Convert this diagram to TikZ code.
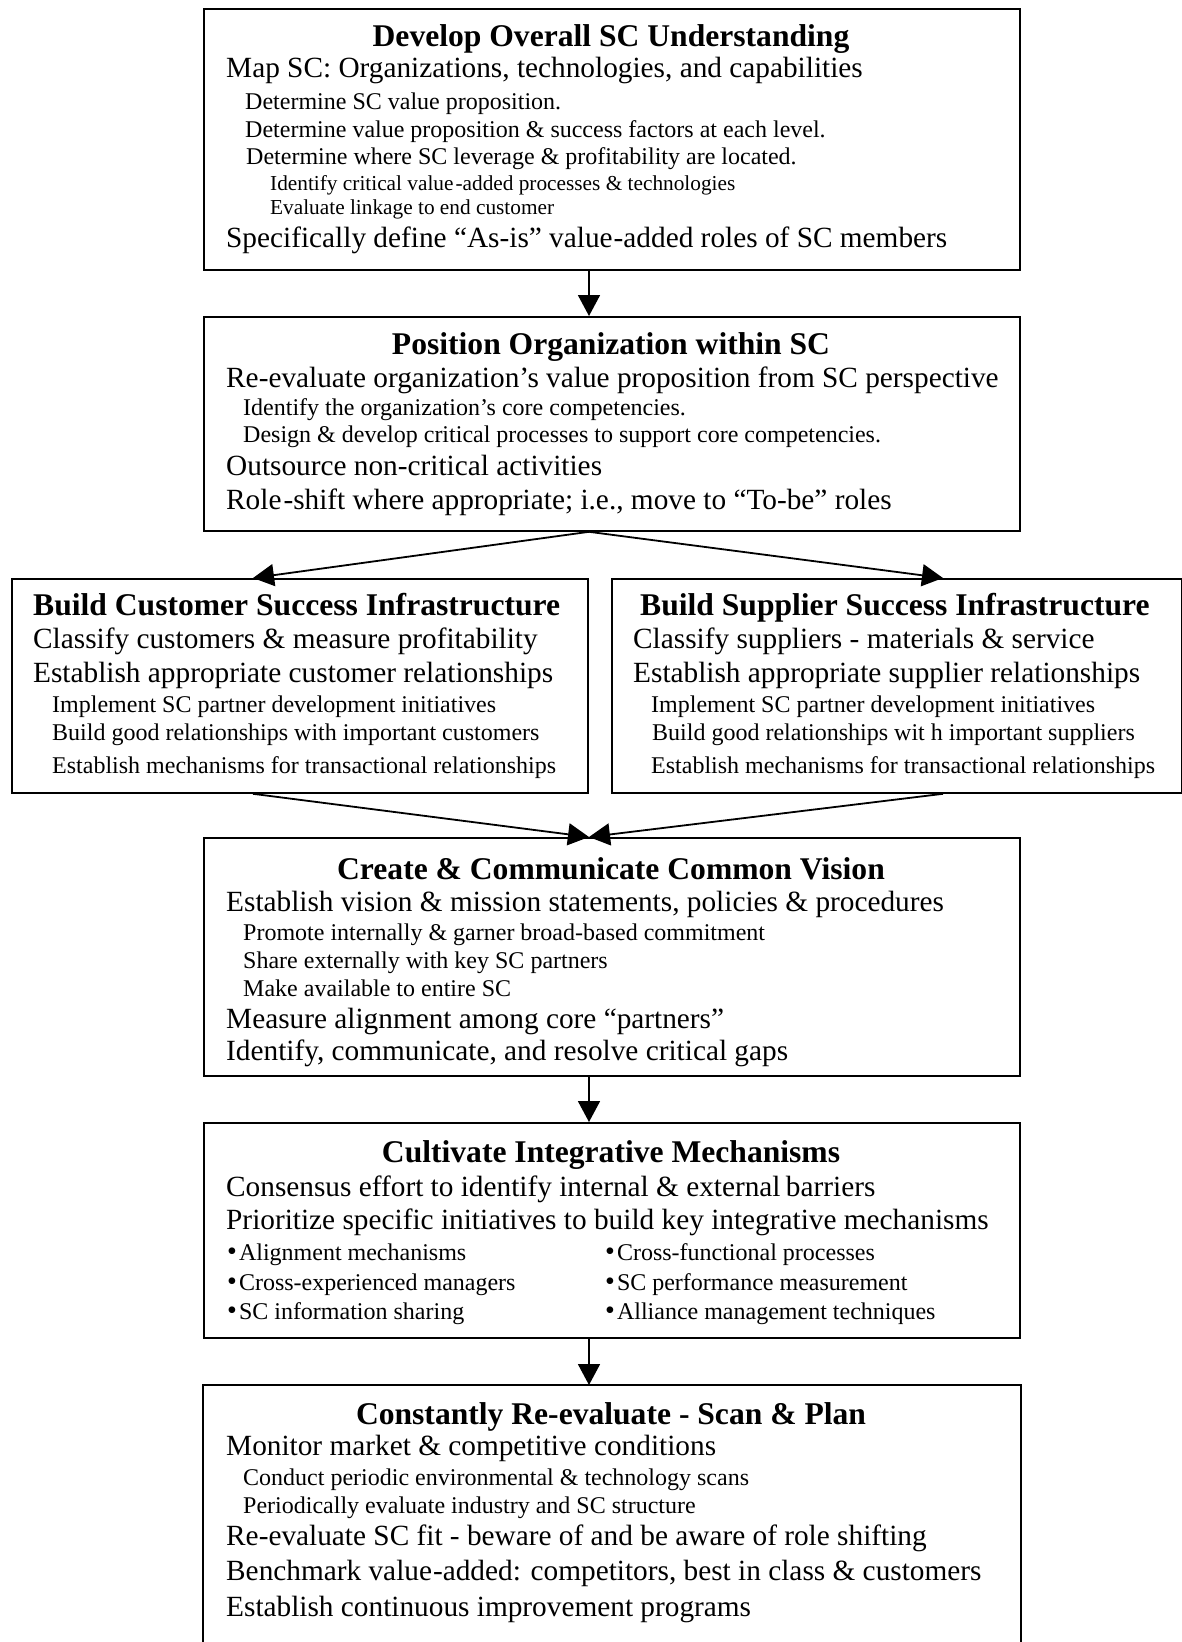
\documentclass[tikz,border=0pt]{standalone}
\usepackage{fontspec}
\setmainfont{Liberation Serif}
\usetikzlibrary{arrows.meta}
\newcommand{\bul}{{\fontsize{28}{28}\selectfont •}\kern2pt}
\tikzset{
  box/.style={draw, line width=1.8pt, rectangle, inner sep=0pt, anchor=north west},
  ttl/.style={font=\fontsize{31.6}{36}\selectfont\bfseries, anchor=base, inner sep=0pt},
  ttlw/.style={font=\fontsize{31.6}{36}\selectfont\bfseries, anchor=base west, inner sep=0pt},
  mainln/.style={font=\fontsize{29.3}{33}\selectfont, anchor=base west, inner sep=0pt},
  subln/.style={font=\fontsize{24}{28}\selectfont, anchor=base west, inner sep=0pt},
  subsub/.style={font=\fontsize{21.3}{25}\selectfont, anchor=base west, inner sep=0pt},
  arr/.style={line width=1.8pt, -{Triangle[length=21pt,width=22pt]}},
}
\begin{document}
\begin{tikzpicture}[x=1pt,y=-1pt]
\useasboundingbox (0,0) rectangle (1182,1642);
% boxes
\node[box, minimum width=816pt, minimum height=261pt] (b1) at (203,8) {};
\node[box, minimum width=816pt, minimum height=214pt] (b2) at (203,316) {};
\node[box, minimum width=576pt, minimum height=214pt] (bl) at (11,578) {};
\node[box, minimum width=569.5pt, minimum height=214pt] (br) at (611,578) {};
\node[box, minimum width=816pt, minimum height=238pt] (b4) at (203,837) {};
\node[box, minimum width=816pt, minimum height=215pt] (b5) at (203,1122) {};
\node[box, draw=none, minimum width=816pt, minimum height=257pt] (b6) at (203,1385) {};
\draw[line width=1.8pt] (b6.south west) -- (b6.north west) -- (b6.north east) -- (b6.south east);
% connector x positions
\coordinate (ax) at (589,0);
\coordinate (lx) at (253,0);
\coordinate (rx) at (943,0);
\draw[arr] (b1.south -| ax) -- (b2.north -| ax);
\draw[arr] (b2.south -| ax) -- (bl.north -| lx);
\draw[arr] (b2.south -| ax) -- (br.north -| rx);
\draw[arr] (bl.south -| lx) -- (b4.north -| ax);
\draw[arr] (br.south -| rx) -- (b4.north -| ax);
\draw[arr] (b4.south -| ax) -- (b5.north -| ax);
\draw[arr] (b5.south -| ax) -- (b6.north -| ax);
% box 1
\node[ttl] (t1) at (611,46) {Develop Overall SC Understanding};
\node[mainln] (t1a) at (226,77) {Map SC: Organizations, technologies, and capabilities};
\node[subln] (t1b) at (245,109) {Determine SC value proposition.};
\node[subln] (t1c) at (245,137) {Determine value proposition \& success factors at each level.};
\node[subln] (t1d) at (246,164) {Determine where SC leverage \& profitability are located.};
\node[subsub] (t1e) at (270,190) {Identify critical value\kern2pt-added processes \& technologies};
\node[subsub] (t1f) at (270,214) {Evaluate linkage to end customer};
\node[mainln] (t1g) at (226,247) {Specifically define “As-is” value\kern1pt-added roles of SC members};
% box 2
\node[ttl] (t2) at (611,354) {Position Organization within SC};
\node[mainln] (t2a) at (226,387) {Re-evaluate organization’s value proposition from SC perspective};
\node[subln] (t2b) at (243,415) {Identify the organization’s core competencies.};
\node[subln] (t2c) at (243,442) {Design \& develop critical processes to support core competencies.};
\node[mainln] (t2d) at (226,475) {Outsource non-critical activities};
\node[mainln] (t2e) at (226,509) {Role\kern2pt-shift where appropriate; i.e., move to “To-be” roles};
% left box
\node[ttlw] (tl) at (33,615) {Build Customer Success Infrastructure};
\node[mainln] (tla) at (33,648) {Classify customers \& measure profitability};
\node[mainln] (tlb) at (33,682) {Establish appropriate customer relationships};
\node[subln] (tlc) at (52,712) {Implement SC partner development initiatives};
\node[subln] (tld) at (52,740) {Build good relationships with important customers};
\node[subln] (tle) at (52,773) {Establish mechanisms for transactional relationships};
% right box
\node[ttlw] (tr) at (640,615) {Build Supplier Success Infrastructure};
\node[mainln] (tra) at (633,648) {Classify suppliers - materials \& service};
\node[mainln] (trb) at (633,682) {Establish appropriate supplier relationships};
\node[subln] (trc) at (651,712) {Implement SC partner development initiatives};
\node[subln] (trd) at (652,740) {Build good relationships wit h important suppliers};
\node[subln] (tre) at (651,773) {Establish mechanisms for transactional relationships};
% box 4
\node[ttl] (t4) at (611,879) {Create \& Communicate Common Vision};
\node[mainln] (t4a) at (226,911) {Establish vision \& mission statements, policies \& procedures};
\node[subln] (t4b) at (243,940) {Promote internally \& garner broad-based commitment};
\node[subln] (t4c) at (243,968) {Share externally with key SC partners};
\node[subln] (t4d) at (243,996) {Make available to entire SC};
\node[mainln] (t4e) at (226,1028) {Measure alignment among core “partners”};
\node[mainln] (t4f) at (226,1060) {Identify, communicate, and resolve critical gaps};
% box 5
\node[ttl] (t5) at (611,1162) {Cultivate Integrative Mechanisms};
\node[mainln] (t5a) at (226,1196) {Consensus effort to identify internal \& external\kern-2pt{} barriers};
\node[mainln] (t5b) at (226,1229) {Prioritize specific initiatives to build key integrative mechanisms};
\node[subln] (t5c) at (227,1260) {\bul Alignment mechanisms};
\node[subln] (t5d) at (605,1260) {\bul Cross-functional processes};
\node[subln] (t5e) at (227,1290) {\bul Cross-experienced managers};
\node[subln] (t5f) at (605,1290) {\bul SC performance measurement};
\node[subln] (t5g) at (227,1319) {\bul SC information sharing};
\node[subln] (t5h) at (605,1319) {\bul Alliance management techniques};
% box 6
\node[ttl] (t6) at (611,1424) {Constantly Re-evaluate - Scan \& Plan};
\node[mainln] (t6a) at (226,1455) {Monitor market \& competitive conditions};
\node[subln] (t6b) at (243,1485) {Conduct periodic environmental \& technology scans};
\node[subln] (t6c) at (243,1513) {Periodically evaluate industry and SC structure};
\node[mainln] (t6d) at (226,1545) {Re-evaluate SC fit - beware of and be aware of role shifting};
\node[mainln] (t6e) at (226,1580) {Benchmark value\kern1pt-added: competitors, best in class \& customers};
\node[mainln] (t6f) at (226,1616) {Establish continuous improvement programs};
\end{tikzpicture}
\end{document}
